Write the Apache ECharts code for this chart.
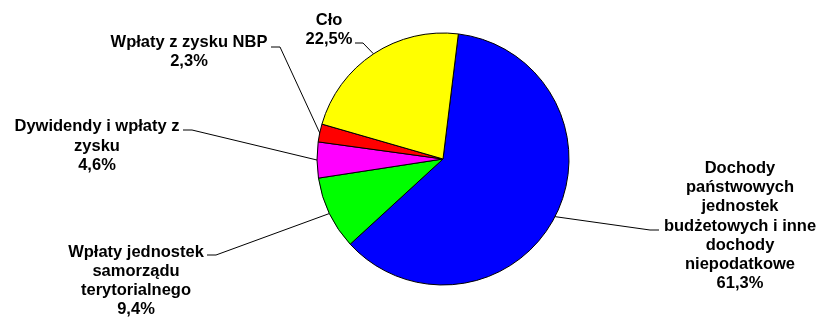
<!DOCTYPE html>
<html>

<head>
  <meta charset="utf-8">
  <title>ECharts</title>
  <script src="https://cdn.jsdelivr.net/npm/echarts@6/dist/echarts.min.js"></script>
</head>

<body style="margin:0;background:#fff">
  <div id="main" style="width: 819px;height:318px;"></div>
  <script type="text/javascript">
    // dane
    var names = [
      'Dochody\npaństwowych\njednostek\nbudżetowych i inne\ndochody\nniepodatkowe',
      'Wpłaty jednostek\nsamorządu\nterytorialnego',
      'Dywidendy i wpłaty z\nzysku',
      'Wpłaty z zysku NBP',
      'Cło'
    ];
    var values = [61.3, 9.4, 4.6, 2.3, 22.5];
    var colors = ['#0000ff', '#00ff00', '#ff00ff', '#ff0000', '#ffff00'];
    // środki etykiet i punkty zaczepienia linii (kolano, koniec przy tekście)
    var labelPos = [[740, 226], [136, 281], [97, 146], [189, 52], [329, 30]];
    var lineHooks = [
      [[650, 230], [659, 230]],
      [[216, 255], [207, 255]],
      [[192, 130], [183, 130]],
      [[280, 47], [271, 47]],
      [[363, 43], [355, 43]]
    ];

    var myChart = echarts.init(document.getElementById('main'));

    var data = [];
    for (var i = 0; i < names.length; i++) {
      data.push({
        name: names[i],
        value: values[i],
        itemStyle: { color: colors[i] }
      });
    }

    var option = {
      animation: false,
      series: [{
        type: 'pie',
        center: [443, 159],
        radius: 126,
        startAngle: 83,
        clockwise: true,
        avoidLabelOverlap: false,
        itemStyle: {
          borderColor: '#000',
          borderWidth: 1
        },
        label: {
          show: true,
          position: 'outside',
          color: '#000',
          fontFamily: 'Liberation Sans, Arial, sans-serif',
          fontWeight: 'bold',
          fontSize: 16.5,
          lineHeight: 19.3,
          align: 'center',
          formatter: function (p) {
            return p.name + '\n' + p.value.toFixed(1).replace('.', ',') + '%';
          }
        },
        labelLine: {
          show: true,
          lineStyle: { color: '#000', width: 1 }
        },
        labelLayout: function (params) {
          var i = params.dataIndex;
          var p = labelPos[i];
          var h = lineHooks[i];
          return {
            x: p[0],
            y: p[1],
            align: 'center',
            verticalAlign: 'middle',
            labelLinePoints: [params.labelLinePoints[0], h[0], h[1]]
          };
        },
        data: data
      }]
    };

    myChart.setOption(option);
  </script>
</body>

</html>
